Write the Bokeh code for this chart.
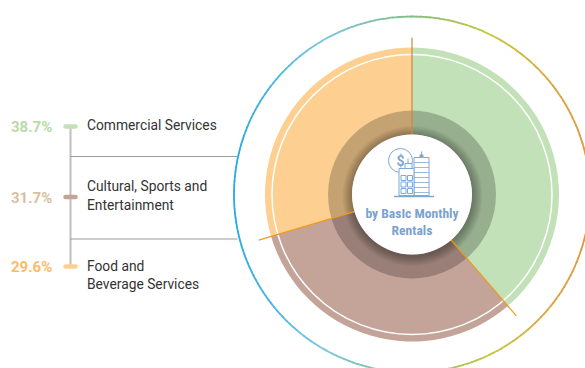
from math import pi, cos, sin
from bokeh.plotting import figure
from bokeh.embed import file_html
from bokeh.resources import INLINE
from bokeh.core.properties import value
from bokeh.models import Range1d

categories = ["Commercial Services", "Cultural, Sports and\nEntertainment", "Food and\nBeverage Services"]
shares = [38.7, 31.7, 29.6]
share_labels = ["38.7%", "31.7%", "29.6%"]
slice_colors = ["#c3e1b8", "#c4a399", "#fdd092"]
label_colors = ["#b7dba8", "#d8bf9f", "#fdbb68"]
pill_colors = ["#c3e1b8", "#c4a399", "#fdd092"]
center_title = ["by BasIc Monthly", "Rentals"]

W, H = 585, 368
p = figure(width=W, height=H, output_backend="svg", toolbar_location=None,
           x_range=Range1d(0, 585), y_range=Range1d(0, 368), min_border=0)
p.axis.visible = False
p.grid.visible = False
p.outline_line_color = None
p.background_fill_color = "white"
p.border_fill_color = "white"

def Y(py):
    return 368 - py

cx, cy = 411.5, Y(194)

# outer ring with a horizontal colour gradient
stops = [(0.0, (41, 171, 226)), (0.25, (125, 200, 225)), (0.5, (130, 190, 130)),
         (0.72, (200, 200, 60)), (1.0, (226, 150, 70))]
def ramp(t):
    for (a, ca), (b, cb) in zip(stops, stops[1:]):
        if t <= b:
            f = (t - a) / (b - a)
            return "#%02x%02x%02x" % tuple(int(x + (y - x) * f) for x, y in zip(ca, cb))
    return "#e29646"
n = 240
starts = [2 * pi * i / n for i in range(n)]
ends = [2 * pi * (i + 1.2) / n for i in range(n)]
cols = [ramp((cos(s + pi / n) + 1) / 2) for s in starts]
p.arc(x=[cx] * n, y=[cy] * n, radius=178, start_angle=starts, end_angle=ends,
      line_color=cols, line_width=1.8)

# slices, clockwise from the top
acc = 0
bounds = []
for s, c in zip(shares, slice_colors):
    a0 = pi / 2 - 2 * pi * acc / 100
    a1 = pi / 2 - 2 * pi * (acc + s) / 100
    p.annular_wedge(x=cx, y=cy, inner_radius=60, outer_radius=147, start_angle=a1, end_angle=a0,
                    fill_color=c, line_color=None)
    bounds.append(a0)
    acc += s

# darker inner band and soft shadow
p.annulus(x=cx, y=cy, inner_radius=60, outer_radius=84, fill_color="black", fill_alpha=0.22, line_color=None)
for i in range(10):
    p.circle(x=cx + 0.5, y=cy - 1.5, radius=60 + 10 - i, fill_color="black", fill_alpha=0.03, line_color=None)

# white ring
p.circle(x=cx, y=cy, radius=140, fill_color=None, line_color="white", line_width=1.5)

# separators
sep_lens = [157, 160, 160]
sep_cols = ["#c98a3b", "#ee9a1e", "#ee9a1e"]
for a, L, c in zip(bounds, sep_lens, sep_cols):
    p.segment(x0=cx + 60 * cos(a), y0=cy + 60 * sin(a), x1=cx + L * cos(a), y1=cy + L * sin(a),
              line_color=c, line_width=1.2)

# centre disc
p.circle(x=cx, y=cy, radius=60, fill_color="white", line_color=None)

# icon
ic = "#7ea8d8"
ix, iy = 411.5, 160
p.circle(x=ix - 11.5, y=Y(iy), radius=12, fill_color="white", line_color=ic, line_width=1)
p.text(x=[ix - 11.5], y=[Y(iy)], text=["$"], text_font=value("Roboto"), text_font_size="14px",
       text_font_style="bold", text_color=ic, text_align="center", text_baseline="middle")
# tower
p.quad(left=ix + 2, right=ix + 17, top=Y(157), bottom=Y(195), fill_color="white", line_color=ic, line_width=1)
for k in range(7):
    p.segment(x0=ix + 2, x1=ix + 17, y0=Y(162 + 5 * k), y1=Y(162 + 5 * k), line_color=ic, line_width=1, line_alpha=0.8)
p.segment(x0=ix + 9.5, x1=ix + 9.5, y0=Y(157), y1=Y(151), line_color=ic, line_width=1)
p.quad(left=ix + 7.5, right=ix + 11.5, top=Y(156.5), bottom=Y(154), fill_color=ic, line_color=None)
# small block
p.quad(left=ix - 13, right=ix + 2, top=Y(168), bottom=Y(195), fill_color="white", line_color=ic, line_width=1)
p.quad(left=ix - 7, right=ix + 0, top=Y(168), bottom=Y(163), fill_color="white", line_color=ic, line_width=1)
p.segment(x0=ix - 4, x1=ix - 4, y0=Y(163), y1=Y(158), line_color=ic, line_width=1)
for r in range(3):
    for q in range(2):
        p.quad(left=ix - 11 + q * 6.5, right=ix - 6 + q * 6.5, top=Y(175 + r * 6.5), bottom=Y(180 + r * 6.5),
               fill_color="white", line_color=ic, line_width=1)
p.segment(x0=ix - 18, x1=ix + 22, y0=Y(196), y1=Y(196), line_color=ic, line_width=1.5)

# centre title
for t, py in zip(center_title, [212, 229]):
    p.text(x=[cx], y=[Y(py)], text=[t], text_font=value("Roboto Condensed, Roboto"), text_font_size="13.6px",
           text_font_style="bold", text_color="#7ba2d0", text_align="center", text_baseline="middle")

# legend scaffold
legend_y = [126, 196.5, 266]
line_y = [156, 238.5]
p.segment(x0=70, x1=70, y0=Y(legend_y[0]), y1=Y(legend_y[-1]), line_color="#bfbfbf", line_width=2)
for y in line_y:
    p.segment(x0=70, x1=237, y0=Y(y), y1=Y(y), line_color="#9a9a9a", line_width=1)
for y, c in zip(legend_y, pill_colors):
    p.segment(x0=65, x1=75, y0=Y(y), y1=Y(y), line_color=c, line_width=4.5, line_cap="round")
for y, t, c in zip(legend_y, share_labels, label_colors):
    p.text(x=[10.5], y=[Y(y + 0.5)], text=[t], text_font=value("Roboto"), text_font_size="15px", text_font_style="bold",
           text_color=c, text_align="left", text_baseline="middle")
label_rows = [[124], [185, 204], [265, 283]]
for name, rows in zip(categories, label_rows):
    for t, py in zip(name.split("\n"), rows):
        p.text(x=[86.5], y=[Y(py)], text=[t], text_font=value("Roboto"), text_font_size="13.8px",
               text_color="#333333", text_align="left", text_baseline="middle")

open("out.html", "w").write(file_html(p, INLINE))
